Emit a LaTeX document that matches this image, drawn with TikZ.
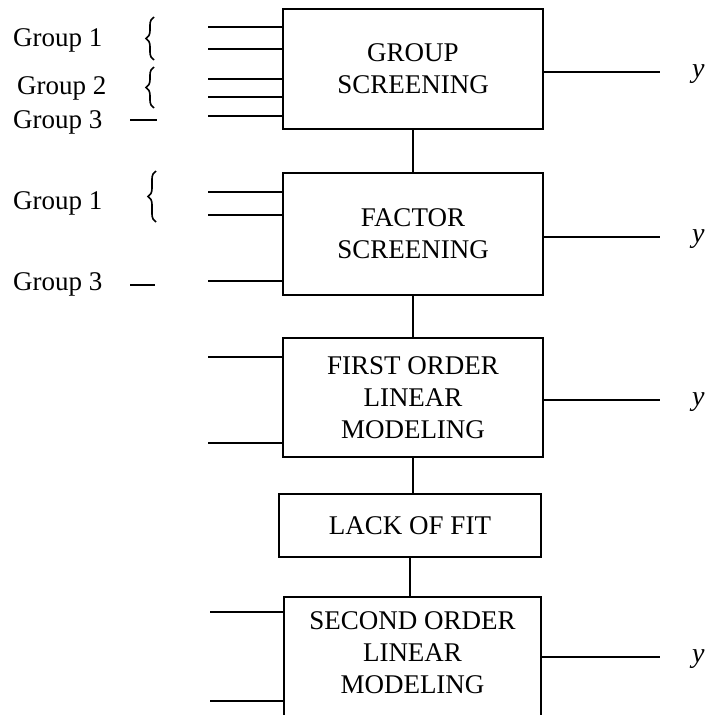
\documentclass[tikz,border=0pt]{standalone}
\usepackage{fontspec}
\setmainfont{Liberation Serif}
\usetikzlibrary{decorations.pathreplacing}
\begin{document}
\begin{tikzpicture}[x=1pt,y=-1pt,
  every node/.style={font=\fontsize{27}{32}\selectfont},
  stagebox/.style={draw,line width=2pt,rectangle,inner sep=0pt,align=center},
  wire/.style={line width=2pt},
  lbl/.style={anchor=west,inner sep=0pt},
  grpbrace/.style={decorate,decoration={brace,amplitude=8pt},line width=1.6pt},
  outlbl/.style={anchor=west,inner sep=0pt,font=\fontsize{28}{32}\selectfont\itshape}]
\useasboundingbox (0,0) rectangle (705,715);
% boxes
\node[stagebox,minimum width=260,minimum height=120] (b1) at (413,69) {GROUP\\SCREENING};
\node[stagebox,minimum width=260,minimum height=122] (b2) at (413,234) {FACTOR\\SCREENING};
\node[stagebox,minimum width=260,minimum height=119] (b3) at (413,397.5) {FIRST ORDER\\LINEAR\\MODELING};
\node[stagebox,minimum width=262,minimum height=63] (b4) at (410,525.5) {LACK OF FIT};
\node[stagebox,minimum width=257,minimum height=150] (b5) at (412.5,672) {};
\node[align=center,inner sep=0pt] (t5) at (412.5,653) {SECOND ORDER\\LINEAR\\MODELING};
% vertical connectors
\draw[wire] (b1.south) -- (b2.north);
\draw[wire] (b2.south) -- (b3.north);
\draw[wire] (b3.south) -- (b3.south |- b4.north);
\draw[wire] (b4.south) -- (b4.south |- b5.north);
% input wires
\foreach \n/\yy in {a1/27,a2/49,a3/79,a4/97,a5/116}{
  \coordinate (\n) at (208,\yy);
  \draw[wire] (\n) -- (\n -| b1.west);}
\foreach \n/\yy in {c1/192,c2/215,c3/281}{
  \coordinate (\n) at (208,\yy);
  \draw[wire] (\n) -- (\n -| b2.west);}
\foreach \n/\yy in {d1/357,d2/443}{
  \coordinate (\n) at (208,\yy);
  \draw[wire] (\n) -- (\n -| b3.west);}
\foreach \n/\yy in {e1/612,e2/701}{
  \coordinate (\n) at (210,\yy);
  \draw[wire] (\n) -- (\n -| b5.west);}
% outputs
\foreach \b/\yy/\k in {b1/72/1,b2/237/2,b3/400/3,b5/657/5}{
  \coordinate (o\k) at (660,\yy);
  \node[outlbl] (y\k) at (692,\yy+2) {y};
  \draw[wire] (\b.east |- o\k) -- (o\k);}
% group labels
\node[lbl] (g1) at (13,40) {Group 1};
\node[lbl] (g2) at (17,88) {Group 2};
\node[lbl] (g3) at (13,122) {Group 3};
\node[lbl] (g4) at (13,203) {Group 1};
\node[lbl] (g5) at (13,284) {Group 3};
% braces and dashes
\coordinate (br1a) at (154,60); \coordinate (br1b) at (154,17);
\draw[grpbrace] (br1a) -- (br1b);
\coordinate (br2a) at (154,108); \coordinate (br2b) at (154,67);
\draw[grpbrace] (br2a) -- (br2b);
\coordinate (br3a) at (156,222); \coordinate (br3b) at (156,171);
\draw[grpbrace] (br3a) -- (br3b);
\coordinate (ds1a) at (130,120); \coordinate (ds1b) at (157,120);
\draw[line width=1.6pt] (ds1a) -- (ds1b);
\coordinate (ds2a) at (130,285); \coordinate (ds2b) at (155,285);
\draw[line width=1.6pt] (ds2a) -- (ds2b);
\end{tikzpicture}
\end{document}
